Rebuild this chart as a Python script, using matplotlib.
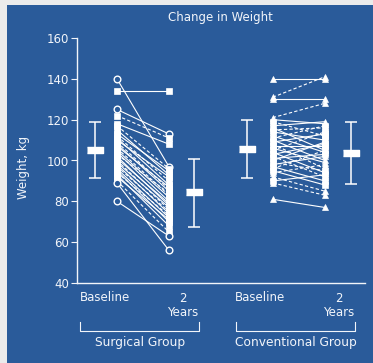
import numpy as np
import matplotlib
matplotlib.use("Agg")
import matplotlib.pyplot as plt
from matplotlib.patches import Rectangle

plt.rcParams['font.family'] = ['DejaVu Sans']

# ---------------- data ----------------
title = "Change in Weight"
ylabel = "Weight, kg"
groups = ["Surgical Group", "Conventional Group"]
time_labels = ["Baseline", "2\nYears"]
yticks = [40, 60, 80, 100, 120, 140, 160]

surg_base = [140, 134, 125, 122, 118, 117, 115, 113, 112, 111, 110, 109, 108, 107,
             106, 105, 104, 103, 102, 101, 100, 99, 98, 97, 96, 95, 94, 93, 92, 90, 89, 80]
surg_2yr = [97, 134, 113, 111, 108, 96, 93, 95, 90, 88, 92, 86, 85, 87,
            83, 82, 80, 84, 78, 79, 76, 77, 74, 75, 72, 70, 73, 68, 71, 65, 56, 63]
surg_marker = ['o', 's', 'o', 's', 's', 's', 's', 's', 's', 's', 's', 's', 's', 's',
               's', 's', 's', 's', 's', 's', 's', 's', 's', 's', 's', 's', 's', 's', 's', 's', 'o', 'o']
surg_dash = [0, 0, 0, 1, 0, 1, 0, 0, 1, 0, 0, 1, 0, 0, 1, 0, 0, 1, 0, 0, 1, 0, 0, 1, 0, 0, 1, 0, 0, 1, 0, 0]

conv_base = [140, 131, 130, 121, 120, 119, 117, 116, 115, 114, 112, 111, 110, 109, 108,
             107, 106, 105, 104, 103, 102, 101, 100, 99, 98, 97, 96, 95, 94, 92, 90, 89, 81]
conv_2yr = [140, 141, 130, 128, 118, 112, 119, 105, 116, 110, 104, 117, 100, 113, 96,
            107, 99, 114, 94, 108, 92, 103, 109, 95, 102, 90, 105, 88, 98, 85, 93, 83, 77]
conv_marker = ['^', '^', '^', '^', '^', 's', '^', 's', '^', 's', '^', 's', '^', 's', '^',
               's', '^', 's', '^', 's', '^', 's', '^', 's', '^', 's', '^', 's', '^', '^', 's', '^', '^']
conv_dash = [0, 1, 0, 1, 0, 1, 0, 0, 1, 0, 0, 1, 0, 0, 1, 0, 0, 1, 0, 0, 1, 0, 0, 1, 0, 0, 1, 0, 1, 1, 0, 1, 0]

# summary (mean, lower, upper)
surg_summary_mean = [105, 84.5]
surg_summary_low = [91.5, 67.5]
surg_summary_high = [119, 100.5]
conv_summary_mean = [105.5, 103.5]
conv_summary_low = [91.5, 88.5]
conv_summary_high = [120, 119]

# ---------------- layout ----------------
BG = '#2a5b9a'
FG = '#f2f5fa'
FS = 8.5
W, H = 373, 363
fig = plt.figure(figsize=(W / 100, H / 100), dpi=100, facecolor='#ebebeb')
bg_ax = fig.add_axes([0, 0, 1, 1], zorder=-10)
bg_ax.set_axis_off()
bg_ax.set_xlim(0, 1)
bg_ax.set_ylim(0, 1)
bg_ax.add_patch(Rectangle((7 / W, 0), 1 - 7 / W, 1 - 5 / H, facecolor=BG, edgecolor='none'))

ax = fig.add_axes([77 / W, 1 - 283 / H, (365 - 77) / W, (283 - 38) / H])
ax.set_facecolor('none')
ax.set_xlim(0.245, 5.68)
ax.set_ylim(40, 160)

for s in ['top', 'right']:
    ax.spines[s].set_visible(False)
for s in ['left', 'bottom']:
    ax.spines[s].set_color(FG)
    ax.spines[s].set_linewidth(1.0)

ax.set_yticks(yticks)
ax.tick_params(axis='y', colors=FG, labelsize=FS, length=4.5, width=0.8, pad=1.0)
ax.set_xticks([])

group_x = [1.0, 3.94]
step = 0.98

mean_marker = [(-1, -0.4), (1, -0.4), (1, 0.4), (-1, 0.4)]

def draw_group(x0, base, two, markers, dashes, m, lo, hi, sum_off):
    xb, xt = x0, x0 + step
    for b, t, mk, d in zip(base, two, markers, dashes):
        ax.plot([xb, xt], [b, t], color='white', lw=0.8,
                ls=(0, (3, 2)) if d else '-', zorder=2)
        for xx, yy in ((xb, b), (xt, t)):
            if mk == 'o':
                ax.plot(xx, yy, marker='o', ms=4.8, mfc=BG, mec='white', mew=1.0, zorder=3)
            else:
                ax.plot(xx, yy, marker=mk, ms=5, mfc='white', mec='white', mew=0.5, zorder=3)
    for i, xs in enumerate([xb + sum_off[0], xt + sum_off[1]]):
        ax.errorbar(xs, m[i], yerr=[[m[i] - lo[i]], [hi[i] - m[i]]], fmt='none',
                    ecolor='white', elinewidth=1.1, capsize=4, capthick=1.1, zorder=3)
        ax.plot(xs, m[i], marker=mean_marker, ms=11, color='white', mec='white', zorder=4)

draw_group(group_x[0], surg_base, surg_2yr, surg_marker, surg_dash,
           surg_summary_mean, surg_summary_low, surg_summary_high, (-0.415, 0.47))
draw_group(group_x[1], conv_base, conv_2yr, conv_marker, conv_dash,
           conv_summary_mean, conv_summary_low, conv_summary_high, (-0.49, 0.5))

# x labels (time points) and group brackets
trans = ax.get_xaxis_transform()
def px2y(py):
    # figure pixel row -> axes fraction
    return (283 - py) / (283 - 38)

for gi, x0 in enumerate(group_x):
    ax.text(x0 - 0.235, px2y(291), time_labels[0], transform=trans, color=FG,
            fontsize=FS, ha='center', va='top')
    ax.text(x0 + step + 0.26, px2y(292), time_labels[1],
            transform=trans, color=FG, fontsize=FS, ha='center', va='top',
            multialignment='center', linespacing=1.15)
    xl, xr = x0 - 0.69, x0 + step + 0.57
    yb, yt = px2y(331), px2y(322)
    ax.plot([xl, xl, xr, xr], [yt, yb, yb, yt], transform=trans, color=FG,
            lw=0.8, clip_on=False)
    ax.text((xl + xr) / 2, px2y(336), groups[gi], transform=trans, color=FG,
            fontsize=FS + 0.3, ha='center', va='top')

ax.set_ylabel(ylabel, color=FG, fontsize=FS)
ax.yaxis.set_label_coords(-(77 - 30) / (365 - 77), 0.47)
fig.text(220 / W, 1 - 18 / H, title, color=FG, fontsize=FS, ha='center', va='center')

fig.savefig('out.png', dpi=100, facecolor=fig.get_facecolor())
